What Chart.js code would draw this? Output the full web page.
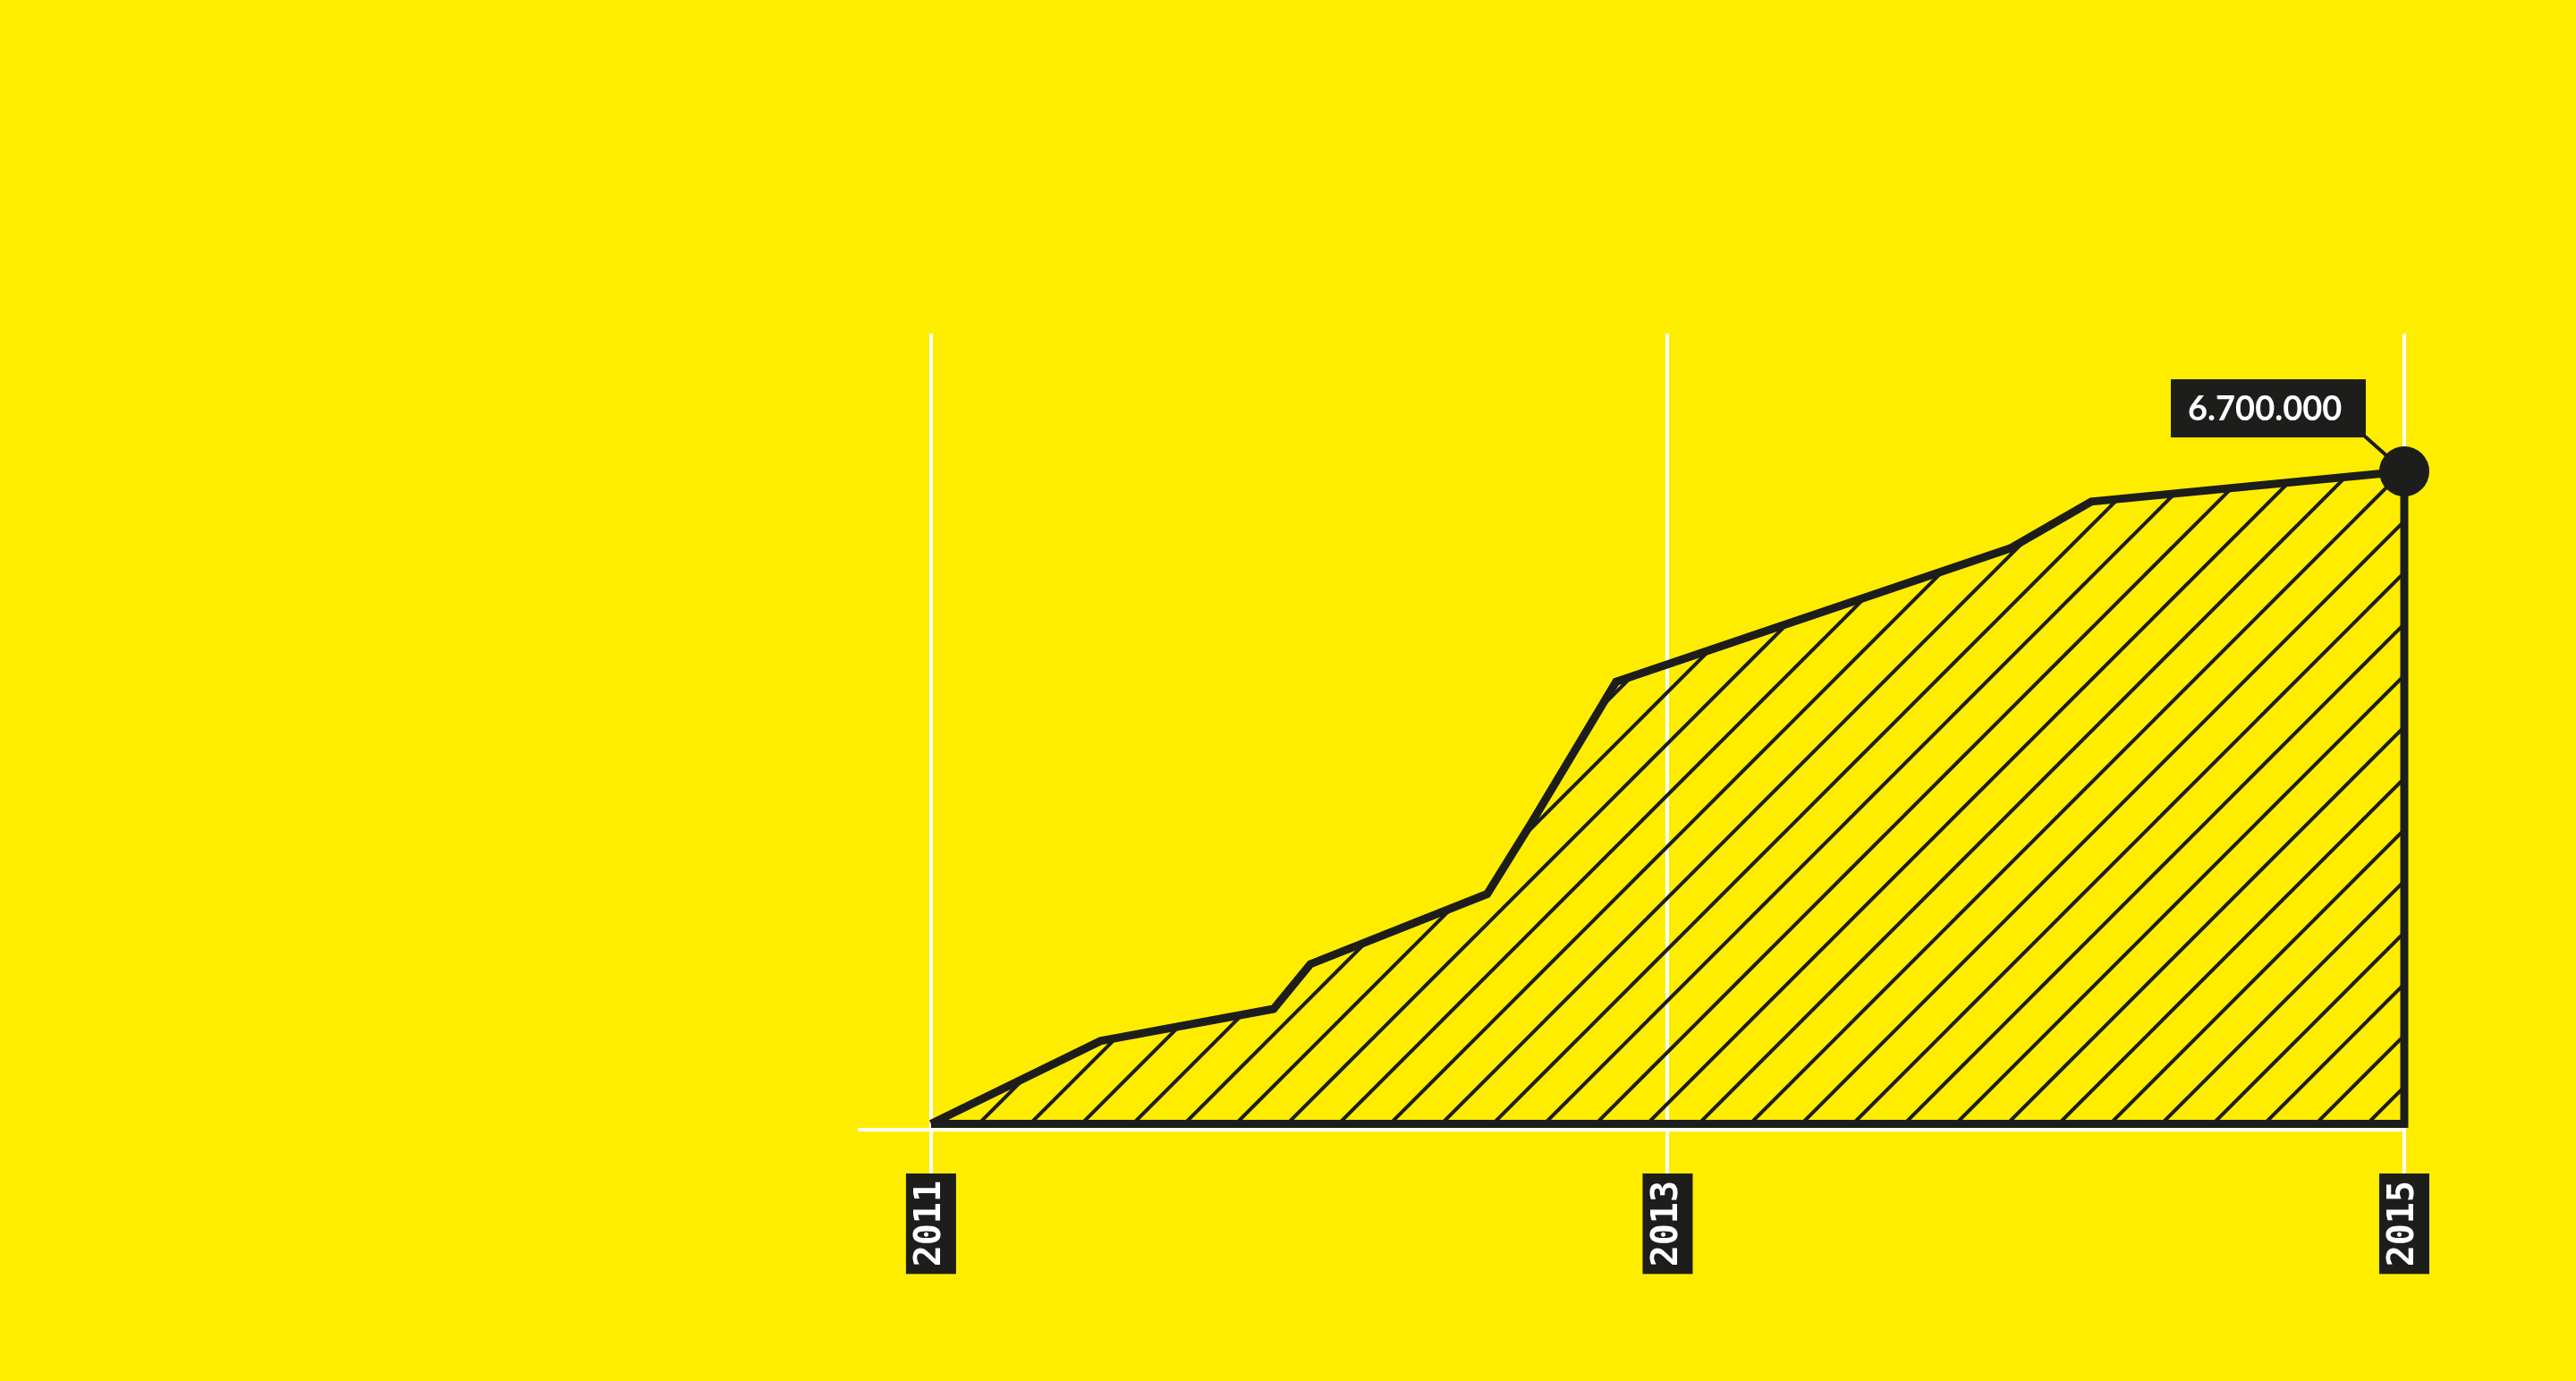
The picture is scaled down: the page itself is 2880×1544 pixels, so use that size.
<!DOCTYPE html>
<html><head><meta charset="utf-8">
<script src="https://cdn.jsdelivr.net/npm/chart.js@4/dist/chart.umd.min.js"></script>
<style>html,body{margin:0;padding:0;background:#FFED00;overflow:hidden}canvas{display:block}</style>
</head><body>
<canvas id="c" width="2880" height="1544"></canvas>
<script>
// ---- data ----
const YEARS = [2011, 2011.46, 2011.93, 2012.03, 2012.51, 2012.63, 2012.86, 2013.93, 2014.15, 2015];
const USERS = [0, 850000, 1180000, 1640000, 2360000, 3090000, 4540000, 5910000, 6390000, 6700000];
const TICK_YEARS = [2011, 2013, 2015];
const END_LABEL = '6.700.000';

// ---- axis ranges / styles ----
const X_MIN = 2010.806, X_MAX = 2015, Y_MIN = -60000, Y_MAX = 8115000;
const INK = '#1D1D1B', WHITE = '#FFFFFF';

const canvas = document.getElementById('c');
const ctx = canvas.getContext('2d');

function hatch() {
  const s = 115, step = 57.5, phase = 50.7;
  const t = document.createElement('canvas'); t.width = s; t.height = s;
  const g = t.getContext('2d');
  g.strokeStyle = INK; g.lineWidth = 4;
  for (let k = -3; k <= 6; k++) {
    const v = phase + k * step;
    g.beginPath(); g.moveTo(v + 20, -20); g.lineTo(v - s - 20, s + 20); g.stroke();
  }
  return ctx.createPattern(t, 'repeat');
}

const series = YEARS.map((x, i) => ({x, y: USERS[i]}));
const outline = series.concat([{x: YEARS[YEARS.length - 1], y: 0}, {x: YEARS[0], y: 0}]);

const endLabel = {
  id: 'endLabel',
  afterDraw(chart) {
    const c = chart.ctx, xs = chart.scales.x, ys = chart.scales.y;
    const i = YEARS.length - 1;
    const px = xs.getPixelForValue(YEARS[i]), py = ys.getPixelForValue(USERS[i]);
    c.save();
    const bx2 = px - 43, by2 = py - 38, bw = 218, bh = 65;
    c.strokeStyle = INK; c.lineWidth = 4;
    c.beginPath(); c.moveTo(bx2 - 2, by2 - 2); c.lineTo(px, py); c.stroke();
    c.fillStyle = INK; c.fillRect(bx2 - bw, by2 - bh, bw, bh);
    c.fillStyle = WHITE; c.font = 'bold 38px Lato'; c.textBaseline = 'middle'; c.textAlign = 'left';
    c.fillText(END_LABEL, bx2 - bw + 19, by2 - bh / 2 + 1);
    c.beginPath(); c.arc(px, py, 28, 0, Math.PI * 2); c.fillStyle = INK; c.fill();
    c.restore();
  }
};

new Chart(ctx, {
  type: 'line',
  data: { datasets: [
    { data: outline, borderColor: INK, borderWidth: 9, borderJoinStyle: 'miter', fill: false,
      pointRadius: 0, tension: 0, order: 1, clip: false },
    { data: series, borderWidth: 0, borderColor: 'rgba(0,0,0,0)', backgroundColor: hatch(),
      fill: 'origin', pointRadius: 0, tension: 0, order: 2, clip: false }
  ]},
  options: {
    responsive: false, animation: false, events: [],
    layout: { padding: { left: 961, right: 192, top: 373, bottom: 0 } },
    plugins: { legend: { display: false }, tooltip: { enabled: false } },
    scales: {
      x: {
        type: 'linear', min: X_MIN, max: X_MAX,
        afterBuildTicks: s => { s.ticks = TICK_YEARS.map(v => ({ value: v })); },
        afterFit: s => { s.height = 281; },
        grid: { color: WHITE, lineWidth: 4, tickLength: 49, drawTicks: true, tickColor: WHITE, tickWidth: 4 },
        border: { display: true, color: WHITE, width: 4 },
        ticks: {
          autoSkip: false, minRotation: 90, maxRotation: 90, padding: 8, color: WHITE,
          font: { family: 'DejaVu Sans Mono', weight: 'bold', size: 40, lineHeight: 1 },
          showLabelBackdrop: true, backdropColor: INK,
          backdropPadding: { top: 8, bottom: 8, left: 8, right: 8 },
          labelOffset: -20,
          callback: v => String(v)
        }
      },
      y: { display: false, min: Y_MIN, max: Y_MAX }
    }
  },
  plugins: [endLabel]
});
</script>
</body></html>
